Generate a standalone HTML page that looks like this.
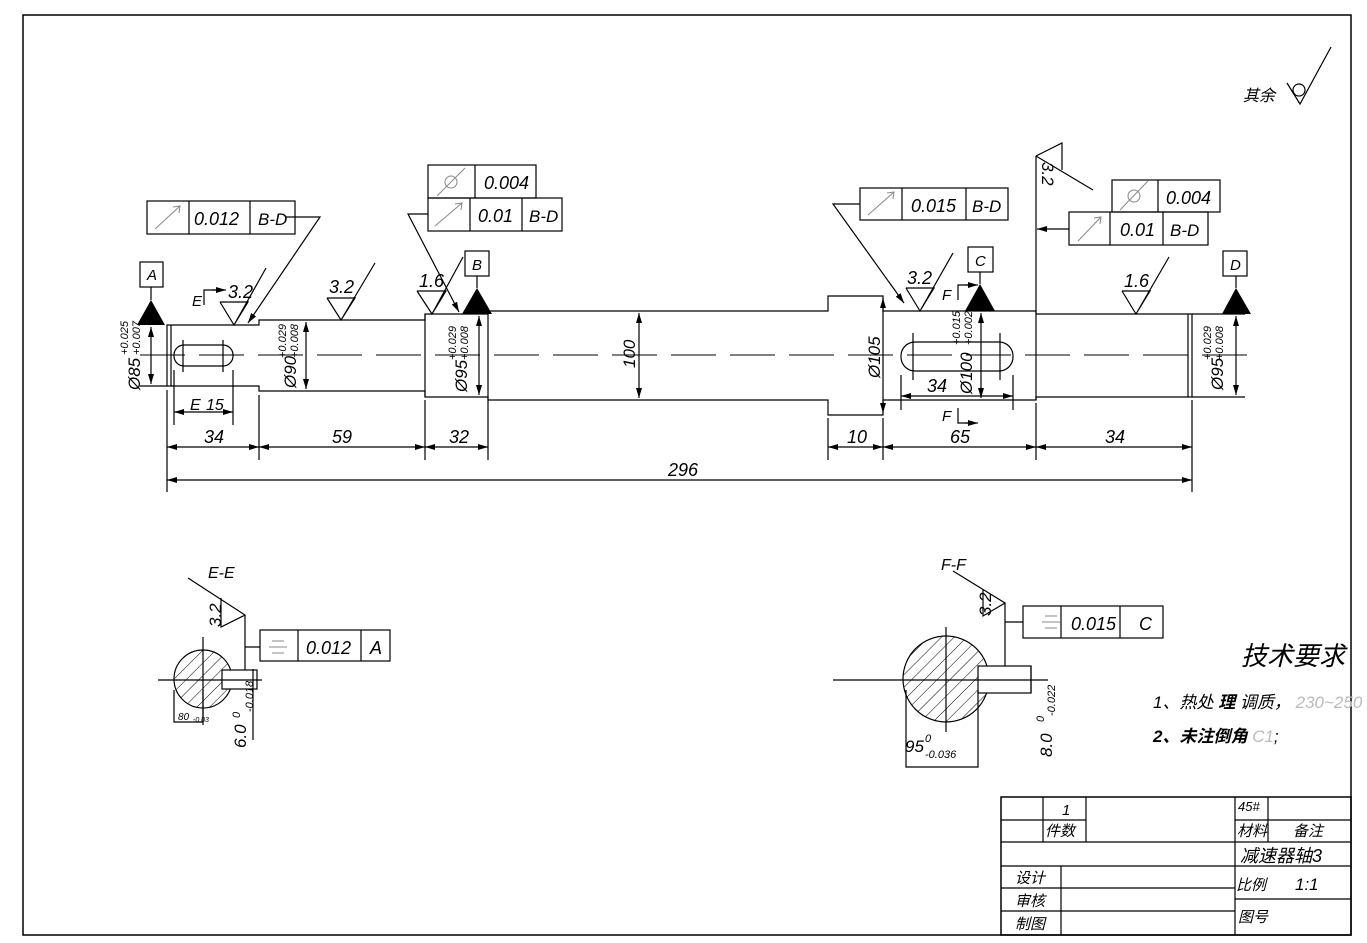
<!DOCTYPE html>
<html><head><meta charset="utf-8"><style>
html,body{margin:0;padding:0;background:#fff;}
svg{display:block;}
text{font-family:"Liberation Sans","Noto Sans CJK SC",sans-serif;font-style:italic;fill:#000;}
</style></head><body>
<svg width="1367" height="943" viewBox="0 0 1367 943" xmlns="http://www.w3.org/2000/svg">
<defs>
<marker id="ar" viewBox="0 0 10 6" refX="10" refY="3" markerWidth="10" markerHeight="6" orient="auto-start-reverse" markerUnits="userSpaceOnUse"><path d="M0,0 L10,3 L0,6 z" fill="#000"/></marker>
<pattern id="hat" width="9" height="9" patternUnits="userSpaceOnUse" patternTransform="rotate(45)"><line x1="0" y1="0" x2="0" y2="9" stroke="#000" stroke-width="1"/></pattern>
</defs>
<g fill="none" stroke="#000" stroke-width="1.2">
<rect x="23" y="15" width="1328" height="920" stroke-width="1.5"/>
<!-- shaft -->
<path d="M167,325 H259 V320 H425 V314 H488 V311 H828 V296 H883 V311 H1036 V314 H1192 V397 H1036 V400 H883 V415 H828 V400 H488 V397 H425 V391 H259 V386 H167 Z"/>
<line x1="171" y1="325" x2="171" y2="386"/>
<line x1="1188" y1="314" x2="1188" y2="397"/>
<line x1="425" y1="314" x2="425" y2="397"/>
<line x1="488" y1="311" x2="488" y2="400"/>
<line x1="1036" y1="311" x2="1036" y2="400"/>
<line x1="140" y1="355" x2="1248" y2="355" stroke-dasharray="45,14" stroke-width="1"/>
<!-- keyways -->
<rect x="174" y="345" width="59" height="21" rx="10"/>
<line x1="183" y1="340" x2="183" y2="372"/><line x1="223" y1="340" x2="223" y2="372"/>
<rect x="901" y="342" width="112" height="29" rx="14"/>
<line x1="913" y1="333" x2="913" y2="380"/><line x1="1000" y1="333" x2="1000" y2="380"/>
<!-- diameter dims -->
<line x1="151" y1="327" x2="151" y2="384" marker-start="url(#ar)" marker-end="url(#ar)"/>
<line x1="306" y1="322" x2="306" y2="389" marker-start="url(#ar)" marker-end="url(#ar)"/>
<line x1="479" y1="316" x2="479" y2="395" marker-start="url(#ar)" marker-end="url(#ar)"/>
<line x1="639" y1="313" x2="639" y2="398" marker-start="url(#ar)" marker-end="url(#ar)"/>
<line x1="883" y1="298" x2="883" y2="413" marker-start="url(#ar)" marker-end="url(#ar)"/>
<line x1="981" y1="313" x2="981" y2="398" marker-start="url(#ar)" marker-end="url(#ar)"/>
<line x1="1236" y1="316" x2="1236" y2="395" marker-start="url(#ar)" marker-end="url(#ar)"/>
<line x1="140" y1="386" x2="167" y2="386"/><line x1="1192" y1="397" x2="1245" y2="397"/>
<line x1="1192" y1="314" x2="1245" y2="314"/>
<!-- extension lines -->
<line x1="167" y1="390" x2="167" y2="492"/><line x1="259" y1="395" x2="259" y2="460"/>
<line x1="425" y1="400" x2="425" y2="460"/><line x1="488" y1="400" x2="488" y2="460"/>
<line x1="828" y1="418" x2="828" y2="460"/><line x1="883" y1="418" x2="883" y2="460"/>
<line x1="1036" y1="403" x2="1036" y2="460"/><line x1="1192" y1="400" x2="1192" y2="492"/>
<line x1="174" y1="370" x2="174" y2="425"/><line x1="233" y1="370" x2="233" y2="425"/>
<line x1="901" y1="375" x2="901" y2="410"/><line x1="1013" y1="375" x2="1013" y2="410"/>
<!-- dims -->
<line x1="174" y1="412" x2="233" y2="412" marker-start="url(#ar)" marker-end="url(#ar)"/>
<line x1="901" y1="396" x2="1013" y2="396" marker-start="url(#ar)" marker-end="url(#ar)"/>
<line x1="167" y1="447" x2="259" y2="447" marker-start="url(#ar)" marker-end="url(#ar)"/>
<line x1="259" y1="447" x2="425" y2="447" marker-start="url(#ar)" marker-end="url(#ar)"/>
<line x1="425" y1="447" x2="488" y2="447" marker-start="url(#ar)" marker-end="url(#ar)"/>
<line x1="828" y1="447" x2="883" y2="447" marker-start="url(#ar)" marker-end="url(#ar)"/>
<line x1="883" y1="447" x2="1036" y2="447" marker-start="url(#ar)" marker-end="url(#ar)"/>
<line x1="1036" y1="447" x2="1192" y2="447" marker-start="url(#ar)" marker-end="url(#ar)"/>
<line x1="167" y1="480" x2="1192" y2="480" marker-start="url(#ar)" marker-end="url(#ar)"/>
<!-- datum boxes and triangles -->
<rect x="140" y="262" width="23" height="25"/><line x1="151" y1="287" x2="151" y2="300"/>
<rect x="465" y="251" width="24" height="25"/><line x1="477" y1="276" x2="477" y2="288"/>
<rect x="968" y="247" width="25" height="25"/><line x1="980" y1="272" x2="980" y2="284"/>
<rect x="1223" y="251" width="24" height="25"/><line x1="1236" y1="276" x2="1236" y2="288"/>
<!-- section markers -->
<path d="M204,305 V290 H222" /><path d="M958,300 V285 H975"/><path d="M958,408 V423 H975"/>
<line x1="212" y1="290" x2="226" y2="290" marker-end="url(#ar)"/>
<line x1="965" y1="285" x2="978" y2="285" marker-end="url(#ar)"/>
<line x1="965" y1="423" x2="978" y2="423" marker-end="url(#ar)"/>
<!-- roughness -->
<path d="M220,302 H248 L234,325 L220,302 M234,325 L266,268"/>
<path d="M327,298 H355 L341,320 L327,298 M341,320 L375,263"/>
<path d="M417,291 H446 L432,314 L417,291 M432,314 L463,257"/>
<path d="M906,288 H934 L920,311 L906,288 M920,311 L953,253"/>
<path d="M1122,291 H1150 L1136,314 L1122,291 M1136,314 L1169,257"/>
<path d="M1287,83 L1300,104 L1331,47"/><circle cx="1299" cy="90" r="6"/>
<!-- FCF left -->
<rect x="147" y="201" width="148" height="33"/><line x1="189" y1="201" x2="189" y2="234"/><line x1="250" y1="201" x2="250" y2="234"/>
<path d="M285,217 H320 L248,323" marker-end="url(#ar)"/>
<!-- FCF middle -->
<rect x="428" y="165" width="108" height="33"/><line x1="475" y1="165" x2="475" y2="198"/>
<rect x="428" y="198" width="134" height="33"/><line x1="470" y1="198" x2="470" y2="231"/><line x1="522" y1="198" x2="522" y2="231"/>
<path d="M428,214 H408 L459,312" marker-end="url(#ar)"/>
<!-- FCF right middle -->
<rect x="860" y="188" width="148" height="32"/><line x1="902" y1="188" x2="902" y2="220"/><line x1="966" y1="188" x2="966" y2="220"/>
<path d="M860,204 H833 L904,303" marker-end="url(#ar)"/>
<!-- FCF right -->
<rect x="1112" y="180" width="108" height="32"/><line x1="1158" y1="180" x2="1158" y2="212"/>
<rect x="1069" y="212" width="139" height="33"/><line x1="1110" y1="212" x2="1110" y2="245"/><line x1="1163" y1="212" x2="1163" y2="245"/>
<line x1="1069" y1="229" x2="1037" y2="229" marker-end="url(#ar)"/>
<line x1="1036" y1="156" x2="1036" y2="311"/>
<path d="M1036,156 L1062,143 V170 M1036,156 L1093,190"/>
<!-- symbols in FCF -->
<g stroke="#888" stroke-width="1">
<line x1="155" y1="229" x2="180" y2="206"/><path d="M173,207 L180,206 L179,213"/>
<line x1="435" y1="226" x2="462" y2="203"/><path d="M455,204 L462,203 L461,210"/>
<line x1="868" y1="215" x2="894" y2="192"/><path d="M887,193 L894,192 L893,199"/>
<line x1="1078" y1="241" x2="1101" y2="217"/><path d="M1094,218 L1101,217 L1100,224"/>
<line x1="437" y1="196" x2="465" y2="168"/><circle cx="451" cy="182" r="6"/>
<line x1="1120" y1="210" x2="1148" y2="181"/><circle cx="1134" cy="196" r="6"/>
<line x1="272" y1="641" x2="284" y2="641"/><line x1="269" y1="647" x2="287" y2="647"/><line x1="272" y1="653" x2="284" y2="653"/>
<line x1="1045" y1="616" x2="1057" y2="616"/><line x1="1042" y1="622" x2="1060" y2="622"/><line x1="1045" y1="628" x2="1057" y2="628"/>
</g>
<!-- section E-E -->
<circle cx="203" cy="679" r="29" fill="url(#hat)"/>
<rect x="222" y="670" width="35" height="19" fill="#fff"/>
<line x1="158" y1="680" x2="262" y2="680"/><line x1="203" y1="637" x2="203" y2="725"/>
<path d="M174,690 V722 H203 V690"/>
<line x1="253" y1="669" x2="253" y2="740"/>
<path d="M188,578 L245,615 L221,627 V598 M245,615 V670 M245,647 H260"/>
<rect x="260" y="630" width="130" height="31"/><line x1="298" y1="630" x2="298" y2="661"/><line x1="361" y1="630" x2="361" y2="661"/>
<!-- section F-F -->
<circle cx="946" cy="679" r="43" fill="url(#hat)"/>
<rect x="978" y="666" width="53" height="27" fill="#fff"/>
<line x1="833" y1="680" x2="1048" y2="680"/><line x1="946" y1="627" x2="946" y2="732"/>
<path d="M906,690 V767 H978 V690"/>
<line x1="1031" y1="666" x2="1031" y2="693"/>
<path d="M953,571 L1005,603 L983,616 V589 M1005,603 V666 M1005,622 H1023"/>
<rect x="1023" y="606" width="140" height="32"/><line x1="1061" y1="606" x2="1061" y2="638"/><line x1="1120" y1="606" x2="1120" y2="638"/>
<!-- title block -->
<rect x="1001" y="797" width="350" height="138" stroke-width="1.5"/>
<line x1="1001" y1="820" x2="1086" y2="820"/><line x1="1235" y1="820" x2="1351" y2="820"/>
<line x1="1001" y1="842" x2="1351" y2="842"/><line x1="1001" y1="866" x2="1351" y2="866"/>
<line x1="1001" y1="888" x2="1235" y2="888"/><line x1="1001" y1="911" x2="1235" y2="911"/>
<line x1="1235" y1="899" x2="1351" y2="899"/>
<line x1="1043" y1="797" x2="1043" y2="842"/><line x1="1086" y1="797" x2="1086" y2="842"/>
<line x1="1061" y1="866" x2="1061" y2="935"/><line x1="1235" y1="797" x2="1235" y2="935"/>
<line x1="1268" y1="797" x2="1268" y2="842"/>
</g>
<!-- datum triangles filled -->
<path d="M137,325 L165,325 L151,300 Z M462,314 L492,314 L477,288 Z M965,311 L995,311 L980,284 Z M1222,314 L1251,314 L1236,288 Z" fill="#000"/>
<!-- texts -->
<g font-size="18">
<text x="147" y="280" font-size="15">A</text><text x="472" y="270" font-size="15">B</text>
<text x="975" y="266" font-size="15">C</text><text x="1230" y="270" font-size="15">D</text>
<text x="228" y="298">3.2</text><text x="329" y="293">3.2</text><text x="419" y="287">1.6</text>
<text x="907" y="284">3.2</text><text x="1124" y="287">1.6</text>
<text x="192" y="306" font-size="15">E</text><text x="942" y="300" font-size="15">F</text><text x="942" y="421" font-size="15">F</text>
<text x="190" y="410" font-size="16">E</text><text x="206" y="410" font-size="16">15</text>
<text x="204" y="443">34</text><text x="332" y="443">59</text><text x="449" y="443">32</text>
<text x="847" y="443">10</text><text x="950" y="443">65</text><text x="1105" y="443">34</text>
<text x="668" y="476">296</text><text x="927" y="392">34</text>
<text x="194" y="225">0.012</text><text x="258" y="225" font-size="17">B-D</text>
<text x="484" y="189">0.004</text><text x="478" y="222">0.01</text><text x="529" y="222" font-size="17">B-D</text>
<text x="911" y="212">0.015</text><text x="972" y="212" font-size="17">B-D</text>
<text x="1166" y="204">0.004</text><text x="1120" y="236">0.01</text><text x="1170" y="236" font-size="17">B-D</text>
<text x="306" y="654">0.012</text><text x="370" y="654">A</text>
<text x="1071" y="630">0.015</text><text x="1139" y="630">C</text>
<text x="1243" y="101" font-size="16">其余</text>
<text x="208" y="578" font-size="16">E-E</text><text x="941" y="570" font-size="16">F-F</text>
<text x="1241" y="665" font-size="26">技术要求</text>
<text x="1153" y="708" font-size="17">1、热处 <tspan font-weight="bold">理</tspan> 调质， <tspan fill="#bbb">230~250</tspan></text>
<text x="1153" y="742" font-size="17" font-weight="bold">2、未注倒角 <tspan font-weight="normal" fill="#bbb">   C1</tspan><tspan font-weight="normal">;</tspan></text>
<text x="905" y="752" font-size="17">95</text><text x="925" y="742" font-size="11">0</text><text x="925" y="758" font-size="11">-0.036</text>
<text x="178" y="720" font-size="10">80</text><text x="193" y="722" font-size="7">-0.03</text>
</g>
<!-- rotated texts -->
<g font-size="17">
<text transform="translate(140,390) rotate(-90)">Ø85</text>
<text transform="translate(128,355) rotate(-90)" font-size="11">+0.025</text>
<text transform="translate(140,355) rotate(-90)" font-size="11">+0.007</text>
<text transform="translate(296,388) rotate(-90)">Ø90</text>
<text transform="translate(286,358) rotate(-90)" font-size="11">+0.029</text>
<text transform="translate(298,358) rotate(-90)" font-size="11">+0.008</text>
<text transform="translate(467,392) rotate(-90)">Ø95</text>
<text transform="translate(456,360) rotate(-90)" font-size="11">+0.029</text>
<text transform="translate(468,360) rotate(-90)" font-size="11">+0.008</text>
<text transform="translate(635,368) rotate(-90)">100</text>
<text transform="translate(880,378) rotate(-90)">Ø105</text>
<text transform="translate(972,394) rotate(-90)">Ø100</text>
<text transform="translate(960,345) rotate(-90)" font-size="11">+0.015</text>
<text transform="translate(972,345) rotate(-90)" font-size="11">+0.002</text>
<text transform="translate(1223,390) rotate(-90)">Ø95</text>
<text transform="translate(1211,360) rotate(-90)" font-size="11">+0.029</text>
<text transform="translate(1223,360) rotate(-90)" font-size="11">+0.008</text>
<text transform="translate(1042,162) rotate(90)">3.2</text>
<text transform="translate(221,627) rotate(-90)">3.2</text>
<text transform="translate(991,616) rotate(-90)">3.2</text>
<text transform="translate(246,748) rotate(-90)">6.0</text>
<text transform="translate(240,718) rotate(-90)" font-size="11">0</text>
<text transform="translate(253,712) rotate(-90)" font-size="11">-0.018</text>
<text transform="translate(1052,757) rotate(-90)">8.0</text>
<text transform="translate(1044,722) rotate(-90)" font-size="11">0</text>
<text transform="translate(1055,716) rotate(-90)" font-size="11">-0.022</text>
</g>
<g font-size="15">
<text x="1062" y="815">1</text><text x="1045" y="836">件数</text>
<text x="1238" y="811" font-size="13">45#</text><text x="1237" y="836">材料</text><text x="1293" y="836">备注</text>
<text x="1240" y="862" font-size="18">减速器轴3</text>
<text x="1015" y="883">设计</text><text x="1015" y="906">审核</text><text x="1015" y="929">制图</text>
<text x="1236" y="890">比例</text><text x="1295" y="890" font-size="17">1:1</text><text x="1238" y="922">图号</text>
</g>
</svg>
</body></html>
